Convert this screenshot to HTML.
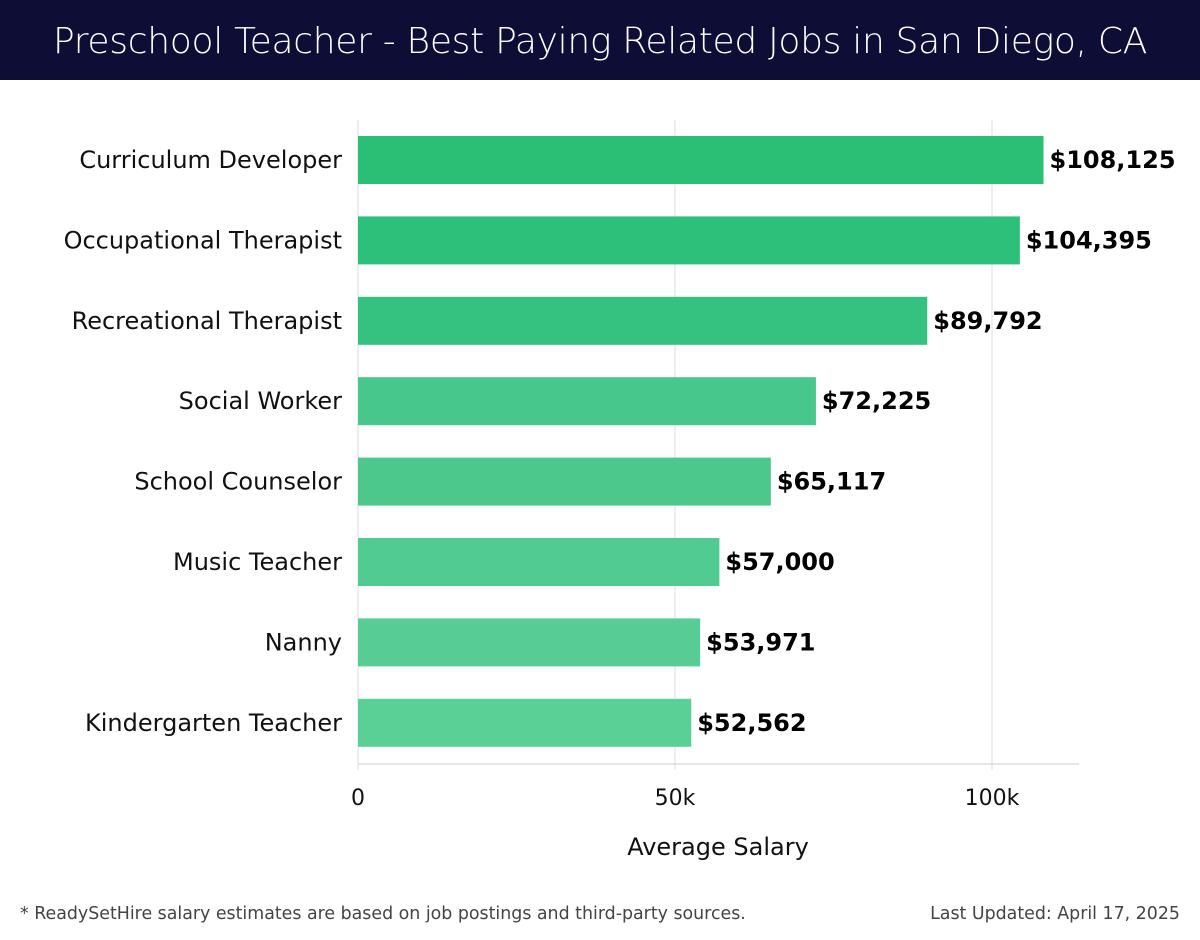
<!DOCTYPE html>
<html><head><meta charset="utf-8"><style>
body{margin:0;width:1200px;height:940px;background:#fff;font-family:"Liberation Sans","DejaVu Sans",sans-serif;overflow:hidden}
#hdr{position:absolute;left:0;top:0;width:1200px;height:80px;background:#0d0d35;color:#fff;font-size:36px;text-align:center;line-height:84px;font-family:"DejaVu Sans","Liberation Sans",sans-serif;font-weight:300;letter-spacing:-0.3px}
</style></head><body>
<div id="hdr">Preschool Teacher - Best Paying Related Jobs in San Diego, CA</div>
<svg id="c" width="1200" height="940" style="position:absolute;left:0;top:0"></svg>
<script>
const categories=["Curriculum Developer","Occupational Therapist","Recreational Therapist","Social Worker","School Counselor","Music Teacher","Nanny","Kindergarten Teacher"];
const salaries=[108125,104395,89792,72225,65117,57000,53971,52562];
const tickValues=[0,50000,100000];
const tickLabels=["0","50k","100k"];
const colors=["#2bbf76","#2dc07a","#35c280","#47c78b","#4cc88d","#52cb92","#57cd95","#5ad096"];
const svg=document.getElementById('c');
const NS="http://www.w3.org/2000/svg";
const x0=358,pxPer=(992-358)/100000;
const xS=v=>x0+v*pxPer;
const yTop=120,step=80.4;
const yC=i=>160+i*step;
function mk(t,a,txt){const e=document.createElementNS(NS,t);for(const k in a)e.setAttribute(k,a[k]);if(txt!==undefined)e.textContent=txt;svg.appendChild(e);return e;}
const F='"DejaVu Sans","Liberation Sans",sans-serif';
tickValues.forEach((v,i)=>{
 const g=mk('line',{x1:xS(v),x2:xS(v),y1:yTop,y2:770,stroke:"#dedede","stroke-width":1});
 
 
 const t=mk('text',{x:xS(v),y:805,"text-anchor":"middle","font-size":22,fill:"#111","font-family":F},tickLabels[i]);
 
 
});
const ax=mk('line',{x1:x0,x2:1079,y1:764,y2:764,stroke:"#ccc","stroke-width":1});


categories.forEach((c,i)=>{
 const y=yC(i);
 const r=mk('rect',{x:x0,y:y-24,width:xS(salaries[i])-x0,height:48,fill:colors[i]});
 
 
 const l=mk('text',{x:342,y:y+8,"text-anchor":"end","font-size":24,fill:"#111","font-family":F},c);
 
 
 const v=mk('text',{x:xS(salaries[i])+6,y:y+8,"font-size":24,"font-weight":"bold",fill:"#000","font-family":F},"$"+salaries[i].toLocaleString('en-US'));
 
 
});
const at=mk('text',{x:718,y:855,"text-anchor":"middle","font-size":24,fill:"#111","font-family":F},"Average Salary");


const f1=mk('text',{x:20,y:919,"font-size":17.4,fill:"#444","font-family":F},"* ReadySetHire salary estimates are based on job postings and third-party sources.");


const f2=mk('text',{x:1180,y:919,"text-anchor":"end","font-size":17.4,fill:"#444","font-family":F},"Last Updated: April 17, 2025");


</script>
</body></html>
